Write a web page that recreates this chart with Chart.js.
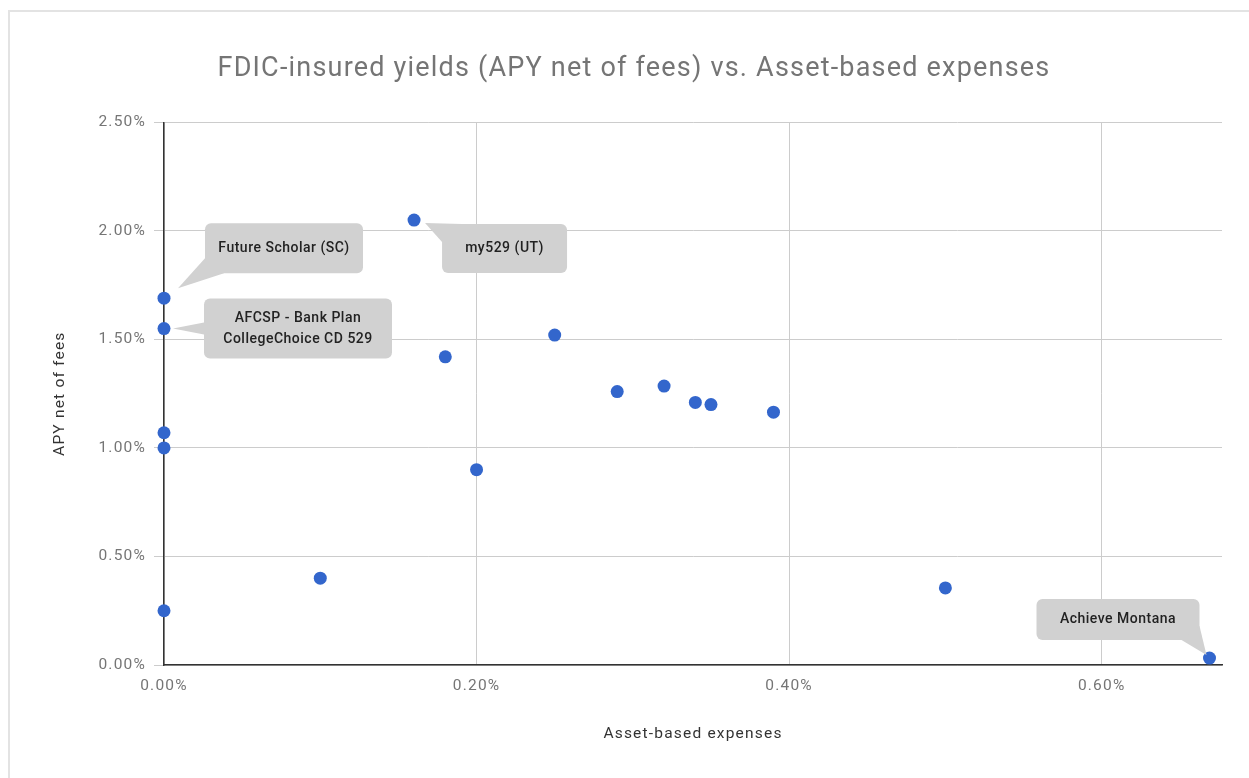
<!DOCTYPE html>
<html>
<head>
<meta charset="utf-8">
<script src="https://cdn.jsdelivr.net/npm/chart.js@4.4.1/dist/chart.umd.min.js"></script>
<style>
  html, body { margin: 0; padding: 0; background: #fff; }
  #frame { position: absolute; left: 8px; top: 10px; width: 1300px; height: 800px; border-left: 2px solid #e3e3e3; border-top: 2px solid #e3e3e3; }
  #wrap { position: absolute; left: 0; top: 0; width: 1249px; height: 778px; }
</style>
</head>
<body>
<div id="frame"></div>
<div id="wrap"><canvas id="c" width="1249" height="778"></canvas></div>
<script>
// ---- data ----
const chartTitle = 'FDIC-insured yields (APY net of fees) vs. Asset-based expenses';
const xAxisTitle = 'Asset-based expenses';
const yAxisTitle = 'APY net of fees';
const assetExpenses = [0, 0, 0, 0, 0, 0.10, 0.16, 0.18, 0.20, 0.25, 0.29, 0.32, 0.34, 0.35, 0.39, 0.50, 0.669];
const apyNetOfFees  = [1.69, 1.55, 1.07, 1.00, 0.25, 0.40, 2.05, 1.42, 0.90, 1.52, 1.26, 1.285, 1.21, 1.20, 1.165, 0.355, 0.032];
const xTickValues = [0, 0.2, 0.4, 0.6];
const yTickValues = [0, 0.5, 1.0, 1.5, 2.0, 2.5];
const calloutPointIndex = [0, 1, 6, 16];
const calloutLabels = [['Future Scholar (SC)'], ['AFCSP - Bank Plan', 'CollegeChoice CD 529'], ['my529 (UT)'], ['Achieve Montana']];

// ---- callout layout (pixel offsets from the point) ----
const calloutLayout = [
  { box: [41, -75, 158, 50], tip: [14, -10], base: [[41, -40], [60, -25]] },
  { box: [40, -30, 188, 60], tip: [9, 0], base: [[40, -6], [40, 6]] },
  { box: [28, 4, 125, 49], tip: [11, 3], base: [[28, 22], [48, 4]] },
  { box: [-173, -59, 163, 41], tip: [-3, -3], base: [[-28, -18], [-10, -32]] }
];

const points = assetExpenses.map((x, i) => ({ x: x, y: apyNetOfFees[i] }));

function roundRect(ctx, x, y, w, h, r) {
  ctx.beginPath();
  ctx.moveTo(x + r, y);
  ctx.lineTo(x + w - r, y);
  ctx.arcTo(x + w, y, x + w, y + r, r);
  ctx.lineTo(x + w, y + h - r);
  ctx.arcTo(x + w, y + h, x + w - r, y + h, r);
  ctx.lineTo(x + r, y + h);
  ctx.arcTo(x, y + h, x, y + h - r, r);
  ctx.lineTo(x, y + r);
  ctx.arcTo(x, y, x + r, y, r);
  ctx.closePath();
}

const spacingPlugin = {
  id: 'spacing',
  beforeUpdate(chart) { chart.ctx.letterSpacing = '1.2px'; },
  beforeDraw(chart) { chart.ctx.letterSpacing = '1.2px'; }
};

const calloutPlugin = {
  id: 'callouts',
  afterDatasetsDraw(chart) {
    const ctx = chart.ctx;
    const xs = chart.scales.x, ys = chart.scales.y;
    ctx.save();
    ctx.letterSpacing = '0.5px';
    calloutPointIndex.forEach((pi, k) => {
      const px = xs.getPixelForValue(assetExpenses[pi]);
      const py = ys.getPixelForValue(apyNetOfFees[pi]);
      const L = calloutLayout[k];
      const bx = px + L.box[0], by = py + L.box[1], bw = L.box[2], bh = L.box[3];
      ctx.fillStyle = '#d1d1d1';
      roundRect(ctx, bx, by, bw, bh, 6);
      ctx.fill();
      ctx.beginPath();
      ctx.moveTo(px + L.base[0][0], py + L.base[0][1]);
      ctx.lineTo(px + L.tip[0], py + L.tip[1]);
      ctx.lineTo(px + L.base[1][0], py + L.base[1][1]);
      ctx.closePath();
      ctx.fill();
      const lines = calloutLabels[k];
      ctx.fillStyle = '#222222';
      ctx.font = '500 14px Roboto';
      ctx.textAlign = 'center';
      ctx.textBaseline = 'middle';
      const lh = 21;
      const cy = by + bh / 2 - (lines.length - 1) * lh / 2;
      lines.forEach((t, j) => ctx.fillText(t, bx + bw / 2, cy + j * lh));
    });
    ctx.restore();
  }
};

new Chart(document.getElementById('c'), {
  type: 'scatter',
  data: {
    datasets: [{
      data: points,
      backgroundColor: '#3366cc',
      borderWidth: 0,
      pointRadius: 6.5,
      pointHoverRadius: 6.5,
      clip: false
    }]
  },
  options: {
    responsive: false,
    animation: false,
    events: [],
    layout: { padding: { left: 46, right: 27, top: 0, bottom: 0 } },
    plugins: {
      legend: { display: false },
      tooltip: { enabled: false },
      title: {
        display: true,
        text: chartTitle,
        color: '#757575',
        font: { family: 'Roboto', size: 27, weight: 'normal' },
        padding: { top: 53, bottom: 37 }
      }
    },
    scales: {
      x: {
        type: 'linear',
        min: 0,
        max: 0.677,
        afterFit(s) { s.height = 113; },
        afterBuildTicks(s) { s.ticks = xTickValues.map(v => ({ value: v })); },
        grid: { color: '#cccccc', drawTicks: false },
        border: { color: '#333333', width: 1.5 },
        ticks: {
          padding: 12,
          color: '#757575',
          font: { family: 'Roboto', size: 15.5 },
          callback: v => v.toFixed(2) + '%'
        },
        title: {
          display: true,
          text: xAxisTitle,
          color: '#333333',
          font: { family: 'Roboto', size: 15.5 },
          padding: { top: 0, bottom: 35 }
        }
      },
      y: {
        type: 'linear',
        min: 0,
        max: 2.5,
        afterFit(s) { s.width = 118; },
        afterBuildTicks(s) { s.ticks = yTickValues.map(v => ({ value: v })); },
        grid: { color: '#cccccc', tickLength: 10 },
        border: { color: '#333333', width: 1.5 },
        ticks: {
          padding: 8,
          color: '#757575',
          font: { family: 'Roboto', size: 15.5 },
          callback: v => v.toFixed(2) + '%'
        },
        title: {
          display: true,
          text: yAxisTitle,
          color: '#333333',
          font: { family: 'Roboto', size: 15.5 },
          padding: { top: 5, bottom: 0 }
        }
      }
    }
  },
  plugins: [spacingPlugin, calloutPlugin]
});
</script>
</body>
</html>
